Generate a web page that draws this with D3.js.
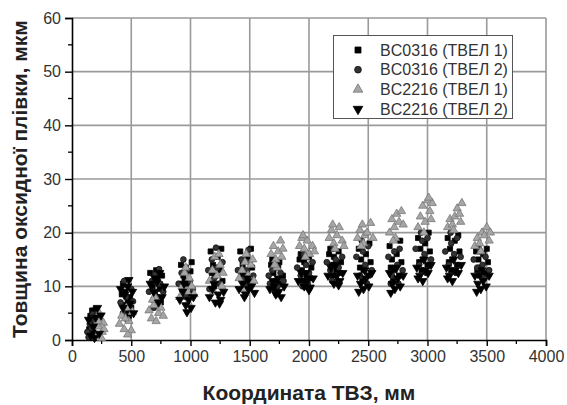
<!DOCTYPE html>
<html>
<head>
<meta charset="utf-8">
<script src="https://cdn.jsdelivr.net/npm/d3@7"></script>
<style>
  html, body { margin: 0; padding: 0; background: #fff; }
  svg { display: block; }
</style>
</head>
<body>
<svg id="chart" width="567" height="405"></svg>
<script>
// Oxide film thickness along the fuel assembly (two fuel rods, two assemblies)
const xTicks = [0, 500, 1000, 1500, 2000, 2500, 3000, 3500, 4000];
const yTicks = [0, 10, 20, 30, 40, 50, 60];
const seriesNames = ["BC0316 (ТВЕЛ 1)", "BC0316 (ТВЕЛ 2)", "BC2216 (ТВЕЛ 1)", "BC2216 (ТВЕЛ 2)"];

const bc0316_tvel1 = [
  [145,2.0],[155,4.5],[160,3.2],[170,5.5],[180,1.5],[185,4.0],[195,2.8],[150,1.0],[200,5.8],
  [430,10.5],[450,9.0],[470,7.5],[440,6.5],[460,5.5],[490,8.0],[420,8.5],[480,4.5],[500,6.0],
  [660,12.5],[680,10.0],[700,8.5],[720,11.5],[740,9.5],[760,12.0],[690,7.5],[750,7.0],[710,13.0],
  [920,14.0],[940,12.0],[960,13.5],[980,10.5],[1000,12.8],[930,9.5],[990,8.5],[1010,14.5],[950,11.0],
  [1170,16.5],[1190,14.0],[1210,12.0],[1230,15.5],[1250,13.0],[1270,11.0],[1200,10.0],[1260,17.0],[1180,12.5],
  [1420,16.5],[1440,14.0],[1460,12.5],[1480,15.5],[1500,11.0],[1520,13.5],[1450,10.5],[1510,17.0],[1430,12.0],
  [1680,14.0],[1700,12.5],[1720,11.0],[1740,13.5],[1760,10.5],[1780,12.0],[1710,9.5],[1690,15.0],[1750,14.5],
  [1920,15.0],[1940,13.0],[1960,14.5],[1980,12.0],[2000,15.5],[2020,13.5],[1950,11.0],[2010,11.5],[1930,16.0],
  [2170,16.0],[2190,14.0],[2210,15.5],[2230,13.0],[2250,16.5],[2270,14.5],[2200,12.0],[2260,12.5],[2180,17.0],
  [2420,17.0],[2440,15.0],[2460,13.0],[2480,16.0],[2500,12.0],[2520,14.5],[2450,11.0],[2510,18.0],[2430,13.5],
  [2680,17.5],[2700,15.0],[2720,13.0],[2740,16.0],[2760,12.0],[2780,14.5],[2710,11.0],[2770,18.5],[2690,13.5],
  [2920,19.0],[2940,17.0],[2960,15.0],[2980,18.0],[3000,14.0],[3020,16.5],[2950,13.0],[3010,20.0],[2930,14.5],
  [3170,19.0],[3190,17.0],[3210,15.0],[3230,18.5],[3250,14.0],[3270,16.5],[3200,13.0],[3260,19.5],[3180,14.5],
  [3410,16.5],[3430,15.0],[3450,13.5],[3470,16.0],[3490,12.5],[3510,14.5],[3440,12.0],[3500,17.0],[3420,13.0]
];

const bc0316_tvel2 = [
  [130,1.5],[150,3.0],[165,2.2],[175,4.8],[190,3.6],[205,1.0],[140,0.5],[215,5.0],
  [410,7.0],[440,11.0],[455,8.0],[475,6.2],[500,9.5],[430,5.0],[515,7.2],[465,3.8],
  [650,9.0],[675,11.0],[700,12.2],[725,8.0],[745,10.5],[770,9.0],[690,6.0],[735,13.2],
  [900,10.5],[925,12.5],[950,9.0],[970,13.0],[995,11.0],[1020,9.5],[960,8.0],[940,15.0],
  [1150,13.0],[1180,15.0],[1200,11.5],[1225,13.5],[1245,10.5],[1270,14.5],[1215,17.2],[1160,9.5],
  [1400,13.0],[1430,15.0],[1455,11.5],[1475,13.0],[1500,14.5],[1530,12.0],[1490,16.8],[1465,10.0],
  [1660,12.0],[1690,13.0],[1715,14.5],[1735,10.0],[1760,12.5],[1785,11.0],[1725,8.5],[1670,10.5],
  [1900,13.5],[1930,12.0],[1955,16.0],[1975,14.0],[2000,12.5],[2030,14.5],[1990,10.5],[1945,10.0],
  [2150,14.5],[2180,13.0],[2205,17.0],[2225,15.0],[2250,13.5],[2280,15.5],[2240,11.0],[2195,11.0],
  [2400,15.5],[2430,12.0],[2455,16.5],[2475,14.0],[2500,17.5],[2530,13.0],[2490,10.5],[2445,18.5],
  [2670,15.5],[2700,12.0],[2720,16.5],[2745,14.0],[2765,17.0],[2790,13.0],[2755,10.5],[2690,10.5],
  [2900,17.0],[2930,14.0],[2955,18.5],[2975,16.0],[3000,19.0],[3030,15.0],[2990,12.5],[2945,20.0],
  [3150,16.5],[3180,14.0],[3200,18.0],[3225,16.0],[3250,19.0],[3280,15.5],[3240,12.5],[3195,20.0],
  [3390,15.0],[3420,13.5],[3445,16.5],[3465,14.0],[3490,15.5],[3520,13.0],[3480,11.5],[3435,17.0]
];

const bc2216_tvel1 = [
  [210,0.8],[225,2.5],[240,4.0],[255,1.5],[265,3.2],[230,5.0],[250,0.3],[270,2.0],[220,3.5],
  [400,3.0],[420,4.5],[440,2.0],[460,6.0],[480,3.5],[500,1.8],[510,5.2],[470,1.0],[450,4.0],
  [650,5.5],[670,4.0],[690,6.5],[710,3.5],[730,5.0],[750,6.0],[770,4.5],[700,8.0],[680,7.5],
  [910,8.0],[930,10.0],[950,12.5],[970,9.0],[990,11.5],[1010,10.0],[1030,8.5],[960,13.5],[980,7.0],
  [1160,11.0],[1185,13.0],[1205,15.5],[1225,12.0],[1250,14.0],[1275,12.5],[1195,9.0],[1240,16.0],[1265,10.0],
  [1410,11.5],[1435,13.0],[1460,14.5],[1485,12.0],[1510,14.0],[1535,11.0],[1470,16.0],[1445,9.5],[1525,15.0],
  [1680,16.0],[1700,17.5],[1720,15.0],[1740,16.5],[1760,18.5],[1780,17.0],[1730,13.5],[1770,15.5],[1710,14.0],
  [1920,17.5],[1940,19.0],[1960,17.0],[1985,18.5],[2005,16.0],[2030,17.5],[1970,15.5],[2045,16.5],[1950,19.5],
  [2170,19.0],[2190,20.5],[2210,18.0],[2235,19.5],[2255,21.0],[2280,18.5],[2220,17.0],[2295,17.5],[2200,21.5],
  [2410,19.0],[2430,20.5],[2450,21.5],[2470,19.5],[2490,20.0],[2520,21.8],[2460,18.0],[2540,19.0],[2440,17.5],
  [2680,20.0],[2700,22.5],[2720,21.0],[2740,23.5],[2760,22.0],[2780,24.0],[2730,19.0],[2795,21.5],[2710,18.5],
  [2920,21.0],[2940,23.0],[2960,25.0],[2980,22.0],[3000,26.0],[3020,24.0],[3040,25.5],[2970,20.0],[3030,22.5],[3010,26.5],
  [3170,21.0],[3190,22.5],[3210,21.5],[3230,23.0],[3250,24.5],[3270,23.5],[3290,25.5],[3220,20.5],[3280,22.0],
  [3400,17.5],[3420,19.0],[3440,18.0],[3460,20.0],[3480,19.5],[3500,21.0],[3520,18.5],[3450,16.5],[3530,20.0]
];

const bc2216_tvel2 = [
  [140,3.8],[160,0.8],[180,2.5],[200,4.2],[215,6.0],[230,1.2],[245,4.6],[190,0.4],
  [410,9.5],[445,8.5],[470,10.0],[490,6.8],[510,9.0],[430,6.0],[520,5.0],[480,11.2],
  [660,10.5],[690,9.0],[715,10.8],[740,12.5],[760,8.0],[780,10.0],[700,11.5],[730,7.0],
  [910,7.5],[935,9.0],[960,6.5],[985,7.5],[1005,6.0],[1025,8.0],[970,5.2],[945,10.5],
  [1160,8.0],[1185,9.5],[1210,7.0],[1235,8.5],[1255,7.5],[1280,9.0],[1200,10.5],[1245,6.8],
  [1410,9.5],[1440,10.5],[1465,8.5],[1490,9.5],[1515,10.0],[1540,8.8],[1480,11.5],[1455,8.0],
  [1670,9.5],[1695,11.0],[1720,8.5],[1745,9.0],[1765,8.0],[1790,10.0],[1705,10.0],[1740,11.5],
  [1910,11.0],[1935,12.5],[1960,10.0],[1985,11.0],[2010,9.8],[2035,11.5],[1975,12.5],[2000,9.3],
  [2160,12.0],[2185,13.5],[2210,10.5],[2235,12.0],[2260,11.0],[2285,12.5],[2225,14.0],[2250,10.2],
  [2410,12.0],[2435,10.5],[2460,9.5],[2480,11.5],[2505,10.0],[2530,12.5],[2470,13.0],[2420,9.0],
  [2680,12.5],[2705,10.5],[2725,9.5],[2750,11.5],[2770,10.0],[2795,12.0],[2740,13.5],[2690,8.8],
  [2910,13.5],[2935,12.0],[2960,11.0],[2985,13.0],[3005,12.5],[3030,14.0],[2970,15.0],[2920,11.5],
  [3160,13.5],[3185,12.0],[3210,11.0],[3235,13.0],[3260,12.5],[3285,14.0],[3220,15.0],[3170,11.5],
  [3400,12.0],[3425,10.5],[3450,9.5],[3470,11.0],[3495,10.0],[3520,12.0],[3460,13.0],[3415,9.0]
];

const series = [
  { name: seriesNames[0], data: bc0316_tvel1, shape: d3.symbolSquare, size: 26, fill: "#000", stroke: "#000", rotate: 0 },
  { name: seriesNames[1], data: bc0316_tvel2, shape: d3.symbolCircle, size: 26, fill: "#333", stroke: "#111", rotate: 0 },
  { name: seriesNames[2], data: bc2216_tvel1, shape: d3.symbolTriangle, size: 30, fill: "#a6a6a6", stroke: "#777", rotate: 0 },
  { name: seriesNames[3], data: bc2216_tvel2, shape: d3.symbolTriangle, size: 30, fill: "#000", stroke: "#000", rotate: 180 }
];

const svg = d3.select("#chart");
const margin = { left: 72, right: 21, top: 18, bottom: 65 };
const W = 567, H = 405;

const x = d3.scaleLinear().domain([0, 4000]).range([margin.left, W - margin.right]);
const y = d3.scaleLinear().domain([0, 60]).range([H - margin.bottom, margin.top]);

const font = "'Liberation Sans', Arial, sans-serif";

// grid
const grid = svg.append("g").attr("stroke", "#9a9a9a").attr("stroke-width", 1.6);
grid.selectAll("line.v").data(xTicks.filter(d => d > 0)).join("line")
  .attr("x1", d => x(d)).attr("x2", d => x(d))
  .attr("y1", y(0)).attr("y2", y(60));
grid.selectAll("line.h").data(yTicks.filter(d => d > 0)).join("line")
  .attr("x1", x(0)).attr("x2", x(4000))
  .attr("y1", d => y(d)).attr("y2", d => y(d));

// axes
const xAxis = d3.axisBottom(x).tickValues(xTicks).tickFormat(d3.format("d")).tickSize(6).tickPadding(5);
const yAxis = d3.axisLeft(y).tickValues(yTicks).tickFormat(d3.format("d")).tickSize(7).tickPadding(4);

const gx = svg.append("g").attr("transform", `translate(0,${y(0)})`).call(xAxis);
const gy = svg.append("g").attr("transform", `translate(${x(0)},0)`).call(yAxis);

[gx, gy].forEach(g => {
  g.select(".domain").attr("stroke", "#000").attr("stroke-width", 1.6);
  g.selectAll(".tick line").attr("stroke", "#000").attr("stroke-width", 1.4);
  g.selectAll(".tick text").attr("fill", "#333").style("font-family", font).style("font-size", "16px");
});

// minor ticks
const xMinor = d3.range(250, 4000, 500);
svg.append("g").selectAll("line").data(xMinor).join("line")
  .attr("x1", d => x(d)).attr("x2", d => x(d))
  .attr("y1", y(0)).attr("y2", y(0) + 4)
  .attr("stroke", "#000").attr("stroke-width", 1.3);
const yMinor = d3.range(5, 60, 10);
svg.append("g").selectAll("line").data(yMinor).join("line")
  .attr("x1", x(0) - 4).attr("x2", x(0))
  .attr("y1", d => y(d)).attr("y2", d => y(d))
  .attr("stroke", "#000").attr("stroke-width", 1.3);

// points
series.forEach(s => {
  const sym = d3.symbol().type(s.shape).size(s.size);
  svg.append("g").selectAll("path").data(s.data).join("path")
    .attr("d", sym)
    .attr("transform", d => `translate(${x(d[0])},${y(d[1])}) rotate(${s.rotate})`)
    .attr("fill", s.fill).attr("stroke", s.stroke).attr("stroke-width", 0.8);
});

// legend
const lg = svg.append("g");
lg.append("rect").attr("x", 333.5).attr("y", 35.5).attr("width", 179).attr("height", 83)
  .attr("fill", "#fff").attr("stroke", "#555").attr("stroke-width", 1);
series.forEach((s, i) => {
  const cy = 50 + i * 19.7;
  lg.append("path")
    .attr("d", d3.symbol().type(s.shape).size(s.size + 10))
    .attr("transform", `translate(358,${cy}) rotate(${s.rotate})`)
    .attr("fill", s.fill).attr("stroke", s.stroke).attr("stroke-width", 0.8);
  lg.append("text").attr("x", 380).attr("y", cy + 5.5)
    .attr("fill", "#333").style("font-family", font).style("font-size", "16px")
    .text(s.name);
});

// axis titles
svg.append("text").attr("x", 309).attr("y", 400).attr("text-anchor", "middle")
  .attr("fill", "#222").style("font-family", font).style("font-size", "21px").style("font-weight", "bold")
  .text("Координата ТВЗ, мм");
svg.append("text").attr("transform", `translate(27,${(y(0) + y(60)) / 2}) rotate(-90)`)
  .attr("text-anchor", "middle")
  .attr("fill", "#222").style("font-family", font).style("font-size", "21px").style("font-weight", "bold")
  .text("Товщина оксидної плівки, мкм");
</script>
</body>
</html>
